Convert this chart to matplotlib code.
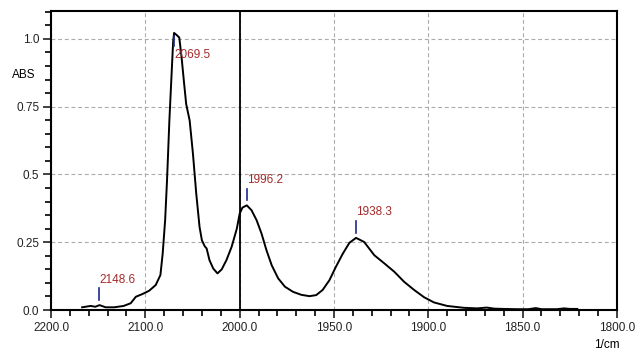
import numpy as np
import matplotlib
matplotlib.use('agg')
import matplotlib.pyplot as plt

## Spectrum (wavenumber in 1/cm, absorbance)
wavenumber = [2167, 2158, 2153, 2148.6, 2142, 2133, 2123, 2115.5, 2110, 2103,
              2096, 2089, 2084, 2081.6, 2079, 2077, 2074.5, 2072, 2070.5, 2069.5,
              2067, 2064, 2061.5, 2059, 2056.7, 2053, 2049.5, 2046, 2042.5, 2040,
              2037, 2035, 2032, 2028, 2023.5, 2019, 2014, 2008.5, 2003, 2000,
              1998.5, 1996.2, 1993.7, 1991, 1988.4, 1985.8, 1983, 1979.6, 1976, 1971.7,
              1967.3, 1963, 1959.4, 1956, 1952.4, 1949, 1945.3, 1941.8, 1938.3, 1934,
              1928.6, 1923.3, 1918, 1912.8, 1907.5, 1902.2, 1897, 1890, 1881, 1874,
              1869, 1865, 1860, 1853, 1847, 1843, 1840, 1832, 1828, 1825, 1821]
absorbance = [0.010, 0.015, 0.012, 0.018, 0.010, 0.010, 0.015, 0.025, 0.049, 0.059,
              0.071, 0.092, 0.129, 0.208, 0.331, 0.478, 0.699, 0.882, 0.990, 1.022,
              1.015, 1.005, 0.930, 0.840, 0.760, 0.699, 0.576, 0.429, 0.306, 0.257,
              0.235, 0.227, 0.184, 0.153, 0.135, 0.150, 0.184, 0.233, 0.300, 0.355,
              0.378, 0.386, 0.368, 0.331, 0.282, 0.221, 0.165, 0.117, 0.086, 0.067,
              0.056, 0.051, 0.055, 0.074, 0.110, 0.159, 0.208, 0.248, 0.266, 0.251,
              0.202, 0.172, 0.141, 0.104, 0.074, 0.047, 0.028, 0.015, 0.008, 0.006,
              0.009, 0.005, 0.004, 0.003, 0.003, 0.007, 0.003, 0.003, 0.006, 0.004, 0.004]

peaks = [2148.6, 2069.5, 1996.2, 1938.3]

x_ticks = [2200, 2100, 2000, 1950, 1900, 1850, 1800]
y_ticks = [0.0, 0.25, 0.5, 0.75, 1.0]
y_ticklabels = ['0.0', '0.25', '0.5', '0.75', '1.0']

# scale changes at 2000 1/cm (the right part is stretched x2)
def fwd(x):
    x = np.asarray(x, float)
    return np.where(x >= 2000, x, 2000 - (2000 - x) * 2)

def inv(u):
    u = np.asarray(u, float)
    return np.where(u >= 2000, u, 2000 - (2000 - u) / 2)

plt.rcParams['font.family'] = ['Liberation Sans', 'DejaVu Sans']
plt.rcParams['font.size'] = 8.5

fig = plt.figure(figsize=(6.36, 3.52), dpi=100)
ax = fig.add_axes([0.0802, 0.1193, 0.8898, 0.8495])

ax.set_xscale('function', functions=(fwd, inv))
ax.set_xlim(2200, 1800)
ax.set_ylim(0, 1.103)

ax.plot(wavenumber, absorbance, color='black', lw=1.4, zorder=3)

ax.set_xticks(x_ticks)
ax.set_xticklabels(['%.1f' % v for v in x_ticks])
ax.set_xticks(list(np.arange(2000, 2201, 20)) + list(np.arange(1800, 2000, 10)), minor=True)
ax.set_yticks(y_ticks)
ax.set_yticklabels(y_ticklabels)
ax.set_yticks(np.arange(0, 1.101, 0.05), minor=True)
ax.tick_params(which='major', length=6, width=1.2, direction='out', pad=2.5, colors='#222222')
ax.tick_params(which='minor', length=4.3, width=1.2, direction='out')

ax.grid(True, which='major', ls=(0, (3.5, 2.5)), color='#ababab', lw=0.8)
ax.axvline(2000, color='black', lw=1.3, zorder=4)

for s in ax.spines.values():
    s.set_linewidth(1.5)

# peak picks
for p in peaks:
    h = np.interp(p, wavenumber[::-1], absorbance[::-1])
    if h > 0.9:
        ax.plot([p, p], [h - 0.01, h - 0.05], color='#1f2a8a', lw=1.2, zorder=5)
        ax.text(p, h - 0.06, '%.1f' % p, color='#a52a2a', fontsize=8.5, ha='left', va='top', zorder=6)
    else:
        ax.plot([p, p], [h + 0.018, h + 0.062], color='#1f2a8a', lw=1.2, zorder=5)
        ax.text(p, h + 0.072, '%.1f' % p, color='#a52a2a', fontsize=8.5, ha='left', va='bottom', zorder=6)

ax.text(-0.049, 0.868, 'ABS', transform=ax.get_yaxis_transform(), ha='center', va='center', fontsize=8.5)
ax.text(0.982, -0.117, '1/cm', transform=ax.transAxes, ha='center', va='center', fontsize=8.5)

plt.savefig('out.png', dpi=100)
